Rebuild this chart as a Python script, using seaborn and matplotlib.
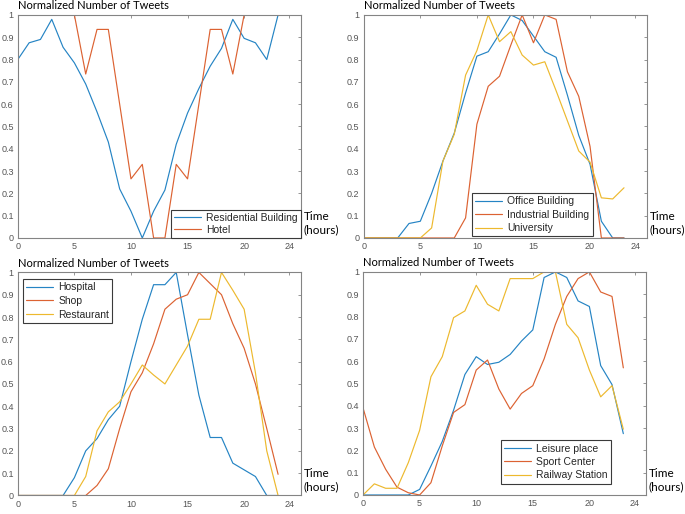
import matplotlib
matplotlib.use("Agg")
import matplotlib.pyplot as plt
import seaborn as sns
import numpy as np
import pandas as pd

hours = list(range(24))

# Panel 1
residential = [0.80, 0.875, 0.89, 0.98, 0.855, 0.785, 0.69, 0.565, 0.43, 0.22, 0.12, 0.0,
               0.12, 0.215, 0.42, 0.56, 0.67, 0.77, 0.85, 0.98, 0.895, 0.875, 0.80, 1.0]
hotel = [1.0, 1.0, 1.0, 1.0, 1.0, 1.0, 0.735, 0.935, 0.935, 0.60, 0.265, 0.33,
         0.0, 0.0, 0.33, 0.265, 0.60, 0.935, 0.935, 0.735, 1.0, 1.0, 1.0, 1.0]

# Panel 2
office = [0.0, 0.0, 0.0, 0.0, 0.065, 0.075, 0.20, 0.345, 0.47, 0.65, 0.815, 0.835,
          0.915, 1.0, 0.975, 0.905, 0.835, 0.81, 0.64, 0.46, 0.33, 0.075, 0.0, 0.0]
industrial = [0.0, 0.0, 0.0, 0.0, 0.0, 0.0, 0.0, 0.0, 0.0, 0.09, 0.51, 0.68,
              0.725, 0.865, 1.0, 0.875, 1.0, 0.98, 0.745, 0.635, 0.41, 0.0, 0.0, 0.0]
university = [0.0, 0.0, 0.0, 0.0, 0.0, 0.0, 0.045, 0.345, 0.465, 0.73, 0.84, 1.0,
              0.88, 0.925, 0.82, 0.775, 0.79, 0.66, 0.525, 0.39, 0.34, 0.18, 0.175, 0.225]

# Panel 3
hospital = [0.0, 0.0, 0.0, 0.0, 0.0, 0.08, 0.20, 0.255, 0.34, 0.40, 0.60, 0.79,
            0.945, 0.945, 1.0, 0.72, 0.45, 0.26, 0.26, 0.145, 0.115, 0.085, 0.0, 0.0]
shop = [0.0, 0.0, 0.0, 0.0, 0.0, 0.0, 0.0, 0.045, 0.12, 0.30, 0.465, 0.55,
        0.68, 0.835, 0.88, 0.90, 1.0, 0.95, 0.90, 0.77, 0.66, 0.50, 0.30, 0.095]
restaurant = [0.0, 0.0, 0.0, 0.0, 0.0, 0.0, 0.085, 0.29, 0.375, 0.42, 0.50, 0.585,
              0.54, 0.50, 0.585, 0.67, 0.79, 0.79, 1.0, 0.92, 0.835, 0.55, 0.20, 0.0]

# Panel 4
leisure = [0.0, 0.0, 0.0, 0.0, 0.0, 0.025, 0.13, 0.24, 0.38, 0.54, 0.62, 0.585,
           0.595, 0.63, 0.69, 0.74, 0.975, 1.0, 0.975, 0.87, 0.845, 0.58, 0.495, 0.275]
sport = [0.39, 0.215, 0.115, 0.035, 0.01, 0.0, 0.055, 0.22, 0.37, 0.405, 0.56, 0.605,
         0.475, 0.385, 0.455, 0.49, 0.61, 0.765, 0.89, 0.97, 1.0, 0.91, 0.89, 0.57]
railway = [0.0, 0.05, 0.03, 0.03, 0.145, 0.29, 0.53, 0.62, 0.795, 0.825, 0.94, 0.855,
           0.825, 0.97, 0.97, 0.97, 1.0, 1.0, 0.765, 0.705, 0.56, 0.44, 0.49, 0.295]

panels = [
    [("Residential Building", residential), ("Hotel", hotel)],
    [("Office Building", office), ("Industrial Building", industrial), ("University", university)],
    [("Hospital", hospital), ("Shop", shop), ("Restaurant", restaurant)],
    [("Leisure place", leisure), ("Sport Center", sport), ("Railway Station", railway)],
]

x_ticks = [0, 5, 10, 15, 20, 24]
y_ticks = [0, 0.1, 0.2, 0.3, 0.4, 0.5, 0.6, 0.7, 0.8, 0.9, 1]
y_labels = ["0", "0.1", "0.2", "0.3", "0.4", "0.5", "0.6", "0.7", "0.8", "0.9", "1"]
title_text = "Normalized Number of Tweets"
xlabel_text = "Time\n(hours)"

colors = ["#2584c4", "#dc6232", "#edb92e"]

sns.set_theme(style="white")
plt.rcParams['font.family'] = ['Liberation Sans', 'DejaVu Sans']

fig = plt.figure(figsize=(6.85, 5.14), dpi=100)

W, H = 0.413, 0.434
positions = [(0.026, 0.537), (0.531, 0.537), (0.026, 0.036), (0.530, 0.037)]
legend_specs = [
    dict(loc="lower right", bbox_to_anchor=(1.0, 0.0), labelspacing=0.2),
    dict(loc="lower center", bbox_to_anchor=(0.596, 0.007), labelspacing=0.33),
    dict(loc="upper left", bbox_to_anchor=(0.0176, 0.970), labelspacing=0.35),
    dict(loc="lower right", bbox_to_anchor=(0.875, 0.051), labelspacing=0.33),
]

axis_col = "#848484"
label_col = "#555555"

for i, series in enumerate(panels):
    ax = fig.add_axes([positions[i][0], positions[i][1], W, H])
    for j, (name, vals) in enumerate(series):
        sns.lineplot(x=hours, y=vals, color=colors[j], linewidth=0.85, label=name, ax=ax)
    ax.set_xlim(0, 25)
    ax.set_ylim(0, 1)
    ax.set_xticks(x_ticks)
    ax.set_xticklabels([str(t) for t in x_ticks])
    ax.set_yticks(y_ticks)
    ax.set_yticklabels(y_labels)
    ax.tick_params(direction="in", length=2.5, width=0.6, colors=axis_col,
                   labelcolor=label_col, labelsize=6.5, top=True, right=True,
                   pad=3)
    for sp in ax.spines.values():
        sp.set_color(axis_col)
        sp.set_linewidth(0.8)
    ax.set_xlabel("")
    ax.set_ylabel("")
    ax.grid(False)
    leg = ax.legend(fontsize=7.5, frameon=True, fancybox=False, borderaxespad=0,
                    handlelength=2.6, handletextpad=0.5,
                    borderpad=0.3, **legend_specs[i])
    leg.get_frame().set_edgecolor("#3a3a3a")
    leg.get_frame().set_linewidth(0.8)
    leg.get_frame().set_alpha(1)
    ax.annotate(title_text, xy=(0, 1), xycoords="axes fraction", xytext=(0, 6.5),
                textcoords="offset points", ha="left", va="center", fontsize=8,
                family=["Lato", "DejaVu Sans"], color="black")
    ax.annotate(xlabel_text, xy=(1, 0), xycoords="axes fraction", xytext=(2, 11),
                textcoords="offset points", ha="left", va="center", fontsize=8.5,
                family=["Lato", "DejaVu Sans"], color="black", linespacing=1.25)

fig.savefig("out.png", dpi=100)
